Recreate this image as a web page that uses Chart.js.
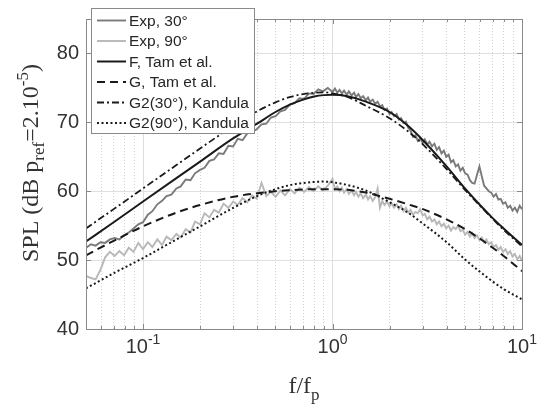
<!DOCTYPE html>
<html lang="en">
  <head>
    <meta charset="UTF-8" />
    <title>SPL spectra vs similarity spectra</title>
    <script src="https://cdn.jsdelivr.net/npm/chart.js"></script>
    <style>
      body { margin: 0; background: #fff; }
      canvas { display: block; }
    </style>
  </head>
  <body>
    <canvas id="splChart" width="537" height="407"></canvas>

    <script>
      // measured spectra, f/fp
      const freqExp = [
        0.0501, 0.0531, 0.0562, 0.0596, 0.0631, 0.0668, 0.0708, 0.075, 0.0794, 0.0841,
        0.0891, 0.0944, 0.1, 0.106, 0.112, 0.119, 0.126, 0.133, 0.141, 0.15,
        0.158, 0.168, 0.178, 0.188, 0.2, 0.211, 0.224, 0.237, 0.251, 0.266,
        0.282, 0.299, 0.316, 0.335, 0.355, 0.376, 0.398, 0.422, 0.447, 0.473,
        0.501, 0.531, 0.562, 0.596, 0.631, 0.668, 0.708, 0.75, 0.794, 0.841,
        0.891, 0.944, 1.0, 1.03, 1.06, 1.09, 1.12, 1.15, 1.19, 1.22,
        1.26, 1.3, 1.33, 1.37, 1.41, 1.45, 1.5, 1.54, 1.58, 1.63,
        1.68, 1.73, 1.78, 1.83, 1.88, 1.94, 2.0, 2.05, 2.11, 2.18,
        2.24, 2.3, 2.37, 2.44, 2.51, 2.58, 2.66, 2.74, 2.82, 2.9,
        2.99, 3.07, 3.16, 3.25, 3.35, 3.45, 3.55, 3.65, 3.76, 3.87,
        3.98, 4.1, 4.22, 4.34, 4.47, 4.6, 4.73, 4.87, 5.01, 5.16,
        5.31, 5.46, 5.62, 5.79, 5.96, 6.13, 6.31, 6.49, 6.68, 6.88,
        7.08, 7.29, 7.5, 7.72, 7.94, 8.18, 8.41, 8.66, 8.91, 9.17,
        9.44, 9.72, 10.0,
      ];

      const exp30 = [
        51.8, 52.3, 52.1, 52.6, 52.5, 53.0, 53.2, 53.0, 53.6, 54.0,
        54.6, 55.2, 55.5, 56.6, 57.1, 58.1, 58.6, 59.3, 59.5, 60.4,
        60.7, 61.7, 61.6, 62.6, 63.1, 63.4, 64.4, 64.6, 65.5, 65.4,
        66.6, 66.5, 67.6, 67.4, 68.4, 68.6, 69.0, 69.7, 69.8, 70.7,
        70.9, 71.6, 71.8, 72.6, 72.8, 73.5, 73.4, 74.2, 74.1, 74.8,
        74.5, 75.0, 74.4, 74.9, 74.3, 74.7, 74.2, 74.6, 74.0, 74.5,
        73.9, 74.3, 73.7, 74.1, 73.5, 73.8, 73.2, 73.6, 73.0, 73.3,
        72.7, 73.0, 72.3, 72.5, 71.8, 72.0, 71.2, 71.5, 70.9, 71.2,
        70.4, 70.6, 69.9, 70.1, 69.2, 68.8, 67.9, 68.1, 67.3, 67.7,
        67.0, 67.5, 66.8, 67.2, 66.5, 66.9, 66.0, 66.4, 65.5, 65.9,
        65.0, 65.3, 64.2, 64.5, 63.6, 63.9, 63.0, 63.4, 62.6, 62.4,
        61.6, 61.2, 61.1, 62.4, 63.6, 62.2, 60.8, 60.4, 60.0, 59.8,
        59.2, 59.6, 58.8, 58.9, 58.2, 58.4, 57.6, 57.9, 57.2, 57.6,
        57.0, 57.9, 57.4,
      ];

      const exp90 = [
        47.7, 47.4, 47.2, 48.6, 50.4, 51.2, 50.6, 51.3, 50.7, 51.8,
        51.2, 52.5, 51.6, 52.6, 51.9, 53.0, 52.2, 53.4, 52.9, 53.8,
        53.3, 54.5, 54.0, 55.6, 55.2, 56.8, 56.2, 57.3, 56.9, 58.2,
        57.6, 58.5, 58.0, 59.0, 58.4, 59.4, 58.9, 61.2, 59.3, 59.9,
        59.2, 60.1, 59.4, 60.3, 59.7, 60.5, 59.9, 60.6, 60.0, 60.7,
        60.1, 60.8, 61.8, 60.3, 60.7, 60.0, 60.5, 59.8, 60.3, 59.6,
        60.1, 59.4, 59.9, 59.2, 59.7, 59.0, 59.5, 58.8, 59.3, 58.6,
        59.1, 60.4, 57.6, 58.6, 58.0, 58.5, 57.8, 58.3, 57.6, 58.1,
        57.4, 57.9, 57.1, 57.6, 56.9, 57.3, 56.6, 57.0, 56.8, 57.4,
        56.5, 56.7, 55.9, 56.3, 55.6, 55.9, 55.2, 55.6, 54.9, 55.3,
        54.6, 55.0, 54.3, 54.8, 54.5, 55.0, 54.2, 54.4, 53.7, 54.1,
        53.4, 53.9, 53.2, 53.6, 52.9, 53.3, 52.6, 53.0, 52.3, 52.6,
        51.9, 52.2, 51.5, 51.9, 51.2, 51.6, 50.9, 51.3, 50.5, 50.9,
        50.1, 50.6, 49.9,
      ];

      // model spectra
      const freqModel = [
        0.05, 0.07, 0.1, 0.15, 0.2, 0.3, 0.4, 0.5, 0.6, 0.7, 0.8, 0.9,
        1.0, 1.2, 1.5, 2, 2.5, 3, 4, 5, 6, 7, 8, 10,
      ];
      const tamF = [
        52.7, 55.5, 58.5, 61.9, 64.3, 67.7, 69.8, 71.5, 72.6, 73.3, 73.75, 73.95,
        74.0, 73.8, 73.0, 71.5, 69.5, 67.4, 63.6, 60.4, 58.0, 56.1, 54.6, 52.2,
      ];
      const tamG = [
        50.7, 52.8, 54.9, 56.9, 58.0, 59.2, 59.7, 60.0, 60.15, 60.25, 60.3, 60.3,
        60.3, 60.2, 59.8, 58.9, 58.1, 57.4, 55.9, 54.5, 53.1, 51.8, 50.6, 48.4,
      ];
      const kandula30 = [
        54.6, 57.4, 60.4, 63.8, 66.2, 69.5, 71.6, 72.9, 73.7, 74.1, 74.3, 74.35,
        74.2, 73.7, 72.4, 70.6, 68.7, 66.8, 63.2, 60.2, 57.9, 56.0, 54.4, 52.0,
      ];
      const kandula90 = [
        45.9, 48.1, 50.3, 53.0, 54.9, 57.6, 59.3, 60.3, 60.9, 61.2, 61.35, 61.4,
        61.3, 60.9, 60.1, 58.4, 56.9, 55.3, 52.6, 50.1, 48.3, 46.9, 45.8, 44.3,
      ];

      const yTicks = [40, 50, 60, 70, 80];
      const xDecades = [0.1, 1, 10];
      const xDecadeLabels = [["10", "-1"], ["10", "0"], ["10", "1"]];

      const SANS = "'Liberation Sans', Arial, Helvetica, sans-serif";
      const SERIF = "'Liberation Serif', 'Times New Roman', serif";

      const toPoints = (xs, ys) => xs.map((x, i) => ({ x: x, y: ys[i] }));
      const isDecade = (v) => Math.abs(Math.log10(v) - Math.round(Math.log10(v))) < 1e-9;

      // grid positions for the log axis (1..9 per decade)
      const xGrid = [];
      [0.01, 0.1, 1].forEach((d) => {
        for (let m = 1; m <= 9; m++) {
          const v = m * d;
          if (v >= 0.05 - 1e-9) xGrid.push(v);
        }
      });
      xGrid.push(10);

      // axes box, inward ticks and the legend box
      const framePlugin = {
        id: "frame",
        afterDatasetsDraw(chart) {
          const { ctx, chartArea: a, scales } = chart;
          ctx.save();
          ctx.strokeStyle = "#8a8a8a";
          ctx.lineWidth = 1;
          ctx.beginPath();
          yTicks.forEach((v) => {
            const py = Math.round(scales.y.getPixelForValue(v)) + 0.5;
            ctx.moveTo(a.left, py); ctx.lineTo(a.left + 5, py);
            ctx.moveTo(a.right, py); ctx.lineTo(a.right - 5, py);
          });
          xGrid.forEach((v) => {
            const px = Math.round(scales.x.getPixelForValue(v)) + 0.5;
            const len = isDecade(v) ? 5 : 3;
            ctx.moveTo(px, a.bottom); ctx.lineTo(px, a.bottom - len);
            ctx.moveTo(px, a.top); ctx.lineTo(px, a.top + len);
          });
          ctx.stroke();
          ctx.strokeRect(Math.round(a.left) + 0.5, Math.round(a.top) + 0.5,
            Math.round(a.right - a.left), Math.round(a.bottom - a.top));

          // legend
          const bx = 91, by = 8, bw = 163, bh = 125, row = 20.5;
          ctx.fillStyle = "#fff";
          ctx.fillRect(bx, by, bw, bh);
          ctx.strokeStyle = "#8a8a8a";
          ctx.strokeRect(bx + 0.5, by + 0.5, bw, bh);
          ctx.font = "15.5px " + SANS;
          ctx.textBaseline = "middle";
          ctx.textAlign = "left";
          chart.data.datasets.forEach((ds, i) => {
            const cy = by + 12.5 + i * row;
            ctx.beginPath();
            ctx.setLineDash(ds.borderDash || []);
            ctx.strokeStyle = ds.borderColor;
            ctx.lineWidth = ds.borderWidth;
            ctx.moveTo(97, cy); ctx.lineTo(126, cy);
            ctx.stroke();
            ctx.setLineDash([]);
            ctx.fillStyle = "#262626";
            ctx.fillText(ds.label, 129, cy + 1);
          });
          ctx.restore();
        },
        afterDraw(chart) {
          const { ctx, chartArea: a, scales } = chart;
          ctx.save();
          ctx.fillStyle = "#333";
          ctx.textAlign = "left";
          ctx.textBaseline = "alphabetic";

          // x decade labels with exponents
          xDecades.forEach((v, i) => {
            const [base, exp] = xDecadeLabels[i];
            const px = scales.x.getPixelForValue(v);
            ctx.font = "20px " + SANS;
            const w1 = ctx.measureText(base).width;
            ctx.font = "14px " + SANS;
            const w2 = ctx.measureText(exp).width;
            const x0 = px - (w1 + w2) / 2;
            ctx.font = "20px " + SANS;
            ctx.fillText(base, x0, 353);
            ctx.font = "14px " + SANS;
            ctx.fillText(exp, x0 + w1, 344);
          });

          // x title f/f_p
          ctx.font = "24px " + SERIF;
          const t1 = "f/f";
          const tw1 = ctx.measureText(t1).width;
          ctx.font = "17px " + SERIF;
          const tw2 = ctx.measureText("p").width;
          const cx = (a.left + a.right) / 2 - (tw1 + tw2) / 2;
          ctx.font = "24px " + SERIF;
          ctx.fillText(t1, cx, 393);
          ctx.font = "17px " + SERIF;
          ctx.fillText("p", cx + tw1, 400);

          // y title SPL (dB p_ref=2.10^-5)
          const parts = [
            ["SPL (dB p", 0, 24],
            ["ref", 6, 17],
            ["=2.10", 0, 24],
            ["-5", -10, 17],
            [")", 0, 24],
          ];
          ctx.translate(38, 262);
          ctx.rotate(-Math.PI / 2);
          let tx = 0;
          parts.forEach(([txt, dy, size]) => {
            ctx.font = size + "px " + SERIF;
            ctx.fillText(txt, tx, dy);
            tx += ctx.measureText(txt).width;
          });
          ctx.restore();
        },
      };

      const ctx = document.getElementById("splChart").getContext("2d");
      const splChart = new Chart(ctx, {
        type: "line",
        data: {
          datasets: [
            {
              label: "Exp, 30°",
              data: toPoints(freqExp, exp30),
              borderColor: "#7a7a7a",
              borderWidth: 1.9,
              order: 5,
            },
            {
              label: "Exp, 90°",
              data: toPoints(freqExp, exp90),
              borderColor: "#b8b8b8",
              borderWidth: 1.9,
              order: 4,
            },
            {
              label: "F, Tam et al.",
              data: toPoints(freqModel, tamF),
              borderColor: "#1a1a1a",
              borderWidth: 2,
              cubicInterpolationMode: "monotone",
              order: 3,
            },
            {
              label: "G, Tam et al.",
              data: toPoints(freqModel, tamG),
              borderColor: "#1a1a1a",
              borderWidth: 2,
              borderDash: [8, 5],
              cubicInterpolationMode: "monotone",
              order: 2,
            },
            {
              label: "G2(30°), Kandula",
              data: toPoints(freqModel, kandula30),
              borderColor: "#1a1a1a",
              borderWidth: 1.8,
              borderDash: [7, 3, 2, 3],
              cubicInterpolationMode: "monotone",
              order: 1,
            },
            {
              label: "G2(90°), Kandula",
              data: toPoints(freqModel, kandula90),
              borderColor: "#1a1a1a",
              borderWidth: 2,
              borderDash: [2, 2.5],
              cubicInterpolationMode: "monotone",
              order: 0,
            },
          ],
        },
        options: {
          responsive: false,
          animation: false,
          events: [],
          elements: { point: { radius: 0 }, line: { fill: false } },
          layout: { padding: { top: 12, right: 15, left: 0, bottom: 0 } },
          plugins: { legend: { display: false }, tooltip: { enabled: false } },
          scales: {
            x: {
              type: "logarithmic",
              min: 0.05,
              max: 10,
              afterBuildTicks: (s) => {
                s.ticks = xGrid.map((v) => ({ value: v }));
              },
              afterFit: (s) => { s.height = 78; },
              ticks: { display: false },
              grid: {
                drawTicks: false,
                color: (c) => (c.tick && isDecade(c.tick.value) ? "#dedede" : "#d2d2d2"),
              },
              border: {
                display: false,
                dash: (c) => (c.tick && isDecade(c.tick.value) ? [] : [1, 2]),
              },
            },
            y: {
              min: 40,
              max: 85,
              afterBuildTicks: (s) => {
                s.ticks = yTicks.map((v) => ({ value: v }));
              },
              afterFit: (s) => { s.width = 86; },
              ticks: {
                padding: 7,
                color: "#333",
                font: { family: SANS, size: 20 },
              },
              grid: { drawTicks: false, color: "#e0e0e0" },
              border: { display: false },
            },
          },
        },
        plugins: [framePlugin],
      });
    </script>
  </body>
</html>
